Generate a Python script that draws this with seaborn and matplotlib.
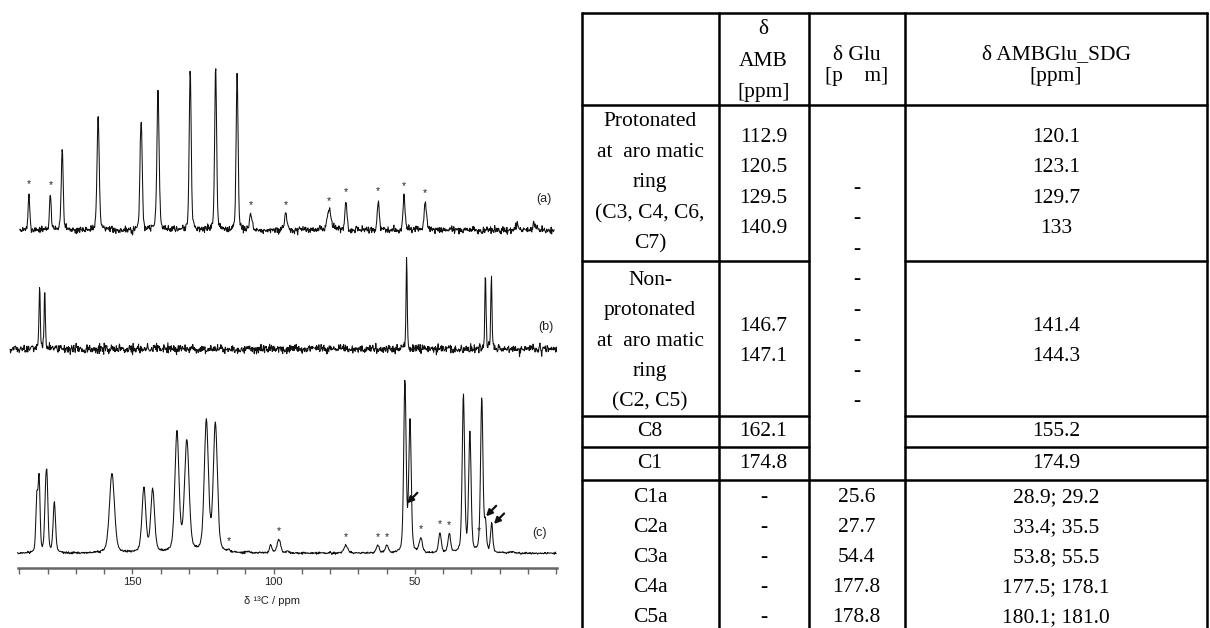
import numpy as np
import pandas as pd
import matplotlib
matplotlib.use("Agg")
import matplotlib.pyplot as plt
import seaborn as sns

# ---------------- spectrum peak lists (ppm, apparent height, FWHM ppm) ----------------
a_pos = [186.6, 179.0, 174.8, 162.1, 147.1, 146.7, 140.9, 129.5, 120.5, 112.9,
         108.1, 95.7, 80.3, 74.4, 62.9, 53.8, 46.3, 13.7, 7.9]
a_hgt = [38, 37, 81, 117, 95, 100, 139, 163, 166, 157,
         17, 17, 21, 30, 31, 36, 29, 4, 7]
a_wid = [0.7, 0.7, 0.8, 0.9, 0.7, 0.7, 0.9, 0.8, 0.8, 0.8,
         1.0, 1.0, 1.6, 0.8, 0.8, 0.8, 0.9, 1.5, 1.0]
a_star = [186.6, 179.0, 108.1, 95.7, 80.3, 74.4, 62.9, 53.8, 46.3]

b_pos = [182.8, 181.0, 52.9, 25.0, 22.9]
b_hgt = [68, 60, 91, 77, 73]
b_wid = [0.5, 0.5, 0.5, 0.5, 0.5]

c_pos = [183.8, 183.0, 180.7, 180.2, 177.6, 157.2, 145.9, 142.8, 134.2, 130.7,
         123.8, 120.6, 115.7, 108.9, 101.0, 98.1, 95.1, 74.4, 63.1, 59.9,
         53.5, 51.7, 47.9, 41.1, 37.8, 33.9, 32.8, 30.5, 27.4, 26.3,
         25.0, 22.8, 15.7]
c_hgt = [62, 80, 70, 81, 52, 80, 66, 65, 123, 114,
         135, 132, 4, 2, 9, 14, 3, 8, 8, 8,
         174, 137, 16, 21, 20, 13, 160, 122, 14, 157,
         36, 31, 2]
c_wid = [0.8, 0.8, 0.9, 0.9, 1.0, 2.1, 1.6, 1.6, 1.7, 1.9,
         1.7, 1.7, 1.0, 1.5, 1.0, 1.5, 1.0, 1.6, 1.2, 1.2,
         1.0, 1.0, 1.3, 1.1, 1.1, 1.0, 1.0, 1.0, 1.0, 1.0,
         0.8, 0.9, 1.5]
c_star = [115.7, 98.1, 74.4, 63.1, 59.9, 47.9, 41.1, 37.8, 27.4]
c_arrows = [52.7, 24.8, 22.0]

spec_labels = ["(a)", "(b)", "(c)"]
axis_major = [150, 100, 50]

# ---------------- table content ----------------
hdr_amb = ["δ", "AMB", "[ppm]"]
hdr_glu = ["δ Glu", "[p    m]"]
hdr_sdg = ["δ AMBGlu_SDG", "[ppm]"]
grp_labels = [["Protonated", "at  aro matic", "ring", "(C3, C4, C6,", "C7)"],
              ["Non-", "protonated", "at  aro matic", "ring", "(C2, C5)"],
              ["C8"], ["C1"]]
grp_amb = [["112.9", "120.5", "129.5", "140.9"], ["146.7", "147.1"], ["162.1"], ["174.8"]]
grp_sdg = [["120.1", "123.1", "129.7", "133"], ["141.4", "144.3"], ["155.2"], ["174.9"]]
glu_dash = ["-"] * 8
ala_labels = ["C1a", "C2a", "C3a", "C4a", "C5a"]
ala_amb = ["-", "-", "-", "-", "-"]
ala_glu = ["25.6", "27.7", "54.4", "177.8", "178.8"]
ala_sdg = ["28.9; 29.2", "33.4; 35.5", "53.8; 55.5", "177.5; 178.1", "180.1; 181.0"]


def profile(x, pos, wid, eta=0.35):
    d = (x - pos) / (wid / 2.0)
    return (1 - eta) * np.exp(-np.log(2) * d ** 2) + eta / (1 + d ** 2)


def spectrum(x, pos, hgt, wid):
    pos = np.asarray(pos, float); hgt = np.asarray(hgt, float); wid = np.asarray(wid, float)
    M = np.array([[profile(pi, pj, wj) for pj, wj in zip(pos, wid)] for pi in pos])
    amp = np.clip(np.linalg.solve(M, hgt), 0, None)
    y = np.zeros_like(x)
    for p, h, w in zip(pos, amp, wid):
        y += h * profile(x, p, w)
    return y


sns.set_theme(style="white")
plt.rcParams["font.family"] = ["Liberation Sans", "DejaVu Sans"]

W, H = 1210, 628
fig = plt.figure(figsize=(W / 100, H / 100), dpi=100)

# spectra axes: x in ppm, y in pixel-like intensity units
x_left_ppm, x_right_ppm = 193.5, -1.0
pxl = lambda ppm: 132.3 + (150 - ppm) * 2.825
ax_left = pxl(x_left_ppm); ax_right = pxl(x_right_ppm)
axis_y = 568.3
ax_top = 40.0
ax = fig.add_axes([ax_left / W, (H - axis_y) / H, (ax_right - ax_left) / W, (axis_y - ax_top) / H])
ax.set_xlim(x_left_ppm, x_right_ppm)
ax.set_ylim(0, axis_y - ax_top)

base = {"a": axis_y - 230.0, "b": axis_y - 349.0, "c": axis_y - 553.3}
rng = np.random.default_rng(7)  # baseline noise texture only

specs = [
    ("a", a_pos, a_hgt, a_wid, (190.0, 0.6), 1.8),
    ("b", b_pos, b_hgt, b_wid, (193.3, -0.2), 2.1),
    ("c", c_pos, c_hgt, c_wid, (190.7, -0.05), 0.5),
]
for key, pos, hgt, wid, (x0, x1), ns in specs:
    x = np.arange(x1, x0, 0.16)[::-1]
    y = spectrum(x, pos, hgt, wid)
    noise = rng.normal(0, ns, x.size)
    df = pd.DataFrame({"ppm": x, "I": y + noise + base[key]})
    sns.lineplot(data=df, x="ppm", y="I", ax=ax, color="#111111", lw=0.75,
                 estimator=None, sort=False, legend=False)

for key, stars, pos, hgt in [("a", a_star, a_pos, a_hgt), ("c", c_star, c_pos, c_hgt)]:
    for p in stars:
        h = hgt[pos.index(p)]
        ax.text(p, base[key] + h + 8, "*", ha="center", va="center", fontsize=7.5, color="#222222")

for p, yh in zip(c_arrows, [65.0, 52.0, 44.3]):
    ax.annotate("", xy=(p, yh), xytext=(p - 3.6, yh + 10.5),
                arrowprops=dict(arrowstyle="-|>", color="#111111", lw=1.6, mutation_scale=9,
                                shrinkA=0, shrinkB=0))

label_pos = [(4.3, axis_y - 199.0), (3.6, axis_y - 326.7), (5.7, axis_y - 533.0)]
for t, (lx, ly) in zip(spec_labels, label_pos):
    ax.text(lx, ly, t, ha="center", va="center", fontsize=9, color="#222222")

for s in ["top", "left", "right"]:
    ax.spines[s].set_visible(False)
ax.spines["bottom"].set_bounds(-0.2, 190.4)
ax.spines["bottom"].set_color("#666666")
ax.spines["bottom"].set_linewidth(1.8)
ax.set_yticks([])
ax.set_xticks(axis_major)
ax.set_xticklabels([str(v) for v in axis_major])
ax.set_xticks(np.arange(0, 191, 10), minor=True)
ax.tick_params(axis="x", which="both", direction="out", length=4, width=1.0, color="#666666",
               labelsize=8, pad=2, labelcolor="#222222", bottom=True)
ax.set_xlabel("")
ax.set_ylabel("")
ax.grid(False)
fig.text(272.5 / W, 1 - 600.7 / H, "δ ¹³C / ppm", ha="center", va="center", fontsize=8, color="#222222")

# ---------------- table (pixel coordinates) ----------------
tx = fig.add_axes([0, 0, 1, 1])
tx.set_xlim(0, W); tx.set_ylim(H, 0); tx.axis("off")
cols = [581.7, 718.5, 808.5, 905.0, 1207.0]
rows = [12.7, 105.0, 261.0, 415.7, 447.3, 479.7]
lw = 1.8
for cx in cols:
    tx.plot([cx, cx], [rows[0] - lw / 2, H + 2], color="black", lw=lw, solid_capstyle="butt")
for ry in [rows[0], rows[1], rows[5]]:
    tx.plot([cols[0], cols[-1]], [ry, ry], color="black", lw=lw)
for ry in rows[2:5]:
    tx.plot([cols[0], cols[2]], [ry, ry], color="black", lw=lw)
    tx.plot([cols[3], cols[-1]], [ry, ry], color="black", lw=lw)

serif = ["Liberation Serif", "DejaVu Serif"]
fs = 15.5
ccx = [(cols[i] + cols[i + 1]) / 2 for i in range(4)]

def put(x, y, s):
    tx.text(x, y, s, ha="center", va="center", fontsize=fs, family=serif, color="black")

for s, y in zip(hdr_amb, [29.0, 61.5, 93.0]):
    put(ccx[1], y, s)
for s, y in zip(hdr_glu, [55.0, 77.0]):
    put(ccx[2], y, s)
for s, y in zip(hdr_sdg, [55.0, 77.0]):
    put(ccx[3], y, s)

step = 30.5
offs = [0.0, 3.0, 0.0, 0.0]
for gi in range(4):
    mid = (rows[gi + 1] + rows[gi + 2]) / 2 + offs[gi]
    for col, lines in [(0, grp_labels[gi]), (1, grp_amb[gi]), (3, grp_sdg[gi])]:
        n = len(lines)
        for k, s in enumerate(lines):
            put(ccx[col], mid + (k - (n - 1) / 2) * step, s)

gmid = (rows[1] + rows[5]) / 2 + 2.5
for k, s in enumerate(glu_dash):
    put(ccx[2], gmid + (k - (len(glu_dash) - 1) / 2) * step, s)

for k in range(len(ala_labels)):
    y = 497.5 + k * 30.0
    put(ccx[0], y, ala_labels[k])
    put(ccx[1], y, ala_amb[k])
    put(ccx[2], y, ala_glu[k])
    put(ccx[3], y, ala_sdg[k])

fig.savefig("out.png", dpi=100)
